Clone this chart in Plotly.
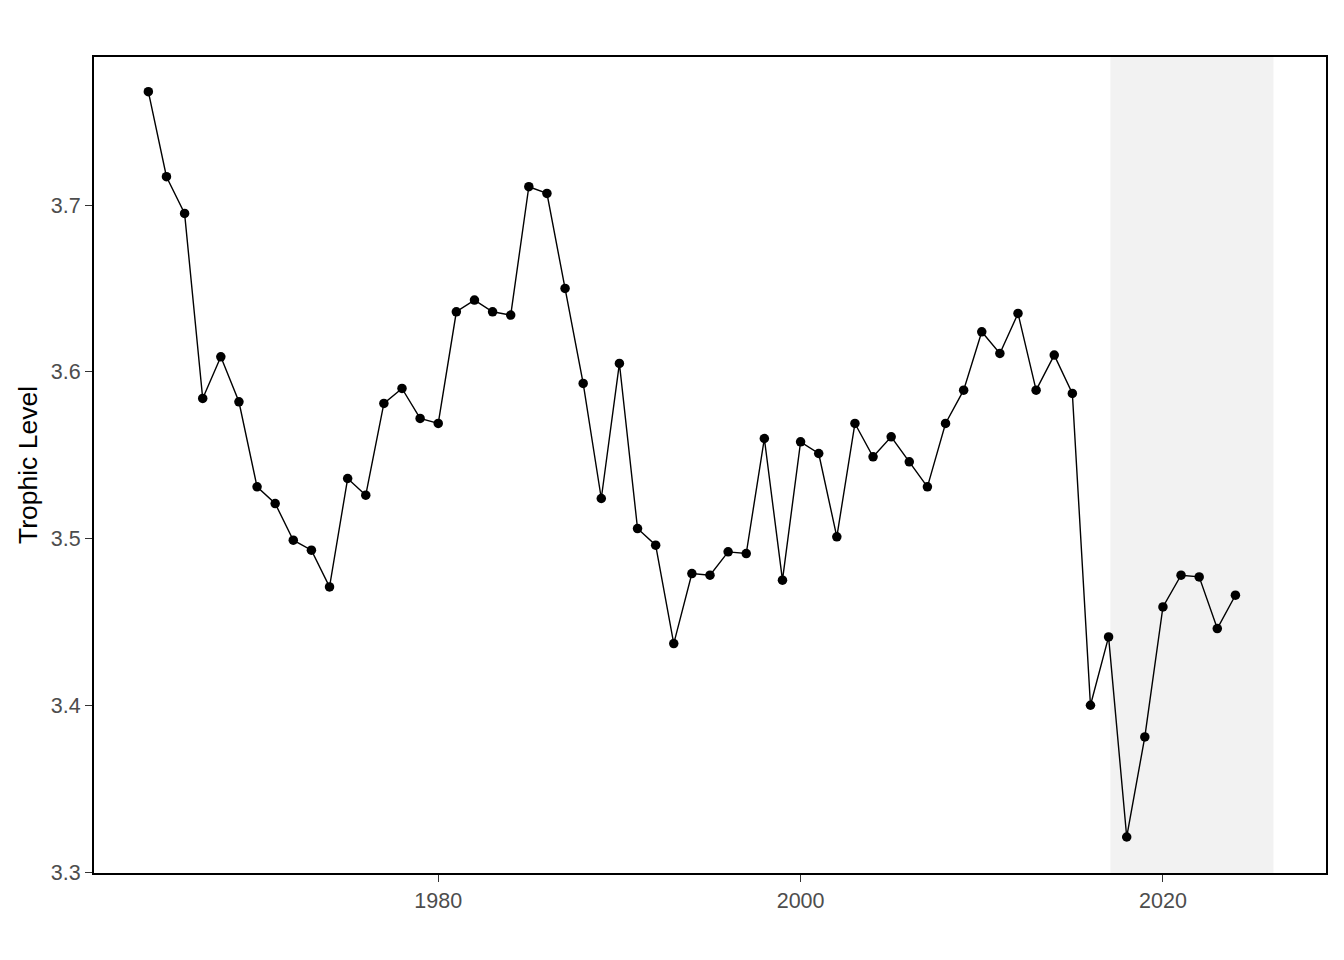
import plotly.graph_objects as go

years = list(range(1964, 2025))
trophic_level = [
    3.768, 3.717, 3.695, 3.584, 3.609, 3.582, 3.531, 3.521, 3.499, 3.493,
    3.471, 3.536, 3.526, 3.581, 3.590, 3.572, 3.569, 3.636, 3.643, 3.636,
    3.634, 3.711, 3.707, 3.650, 3.593, 3.524, 3.605, 3.506, 3.496, 3.437,
    3.479, 3.478, 3.492, 3.491, 3.560, 3.475, 3.558, 3.551, 3.501, 3.569,
    3.549, 3.561, 3.546, 3.531, 3.569, 3.589, 3.624, 3.611, 3.635, 3.589,
    3.610, 3.587, 3.400, 3.441, 3.321, 3.381, 3.459, 3.478, 3.477, 3.446,
    3.466,
]
shade_start, shade_end = 2017.1, 2026.1
x_ticks = [1980, 2000, 2020]
y_ticks = [3.3, 3.4, 3.5, 3.6, 3.7]

fig = go.Figure()
fig.add_vrect(x0=shade_start, x1=shade_end, fillcolor="#F2F2F2", line_width=0,
              layer="below")
fig.add_trace(go.Scatter(
    x=years, y=trophic_level, mode="lines+markers",
    line=dict(color="black", width=1.4),
    marker=dict(color="black", size=9.5),
    showlegend=False,
))

axis_common = dict(
    showgrid=False, zeroline=False, showline=True, linecolor="black", linewidth=2,
    mirror=True, ticks="outside", ticklen=7, tickwidth=1.2, tickcolor="#333333",
    tickfont=dict(family="Liberation Sans, Arial, sans-serif", size=21.5, color="#4D4D4D"),
)
fig.update_xaxes(range=[1961.0, 2029.0], tickvals=x_ticks, **axis_common)
fig.update_yaxes(range=[3.2994, 3.7888], tickvals=y_ticks, tickformat=".1f",
                 title=dict(text="Trophic Level", standoff=6,
                            font=dict(family="Liberation Sans, Arial, sans-serif",
                                      size=26.5, color="black")),
                 **axis_common)
fig.update_layout(
    width=1328, height=944, plot_bgcolor="white", paper_bgcolor="white",
    margin=dict(l=86, r=8, t=49, b=79),
)
fig.write_html("out.html")
